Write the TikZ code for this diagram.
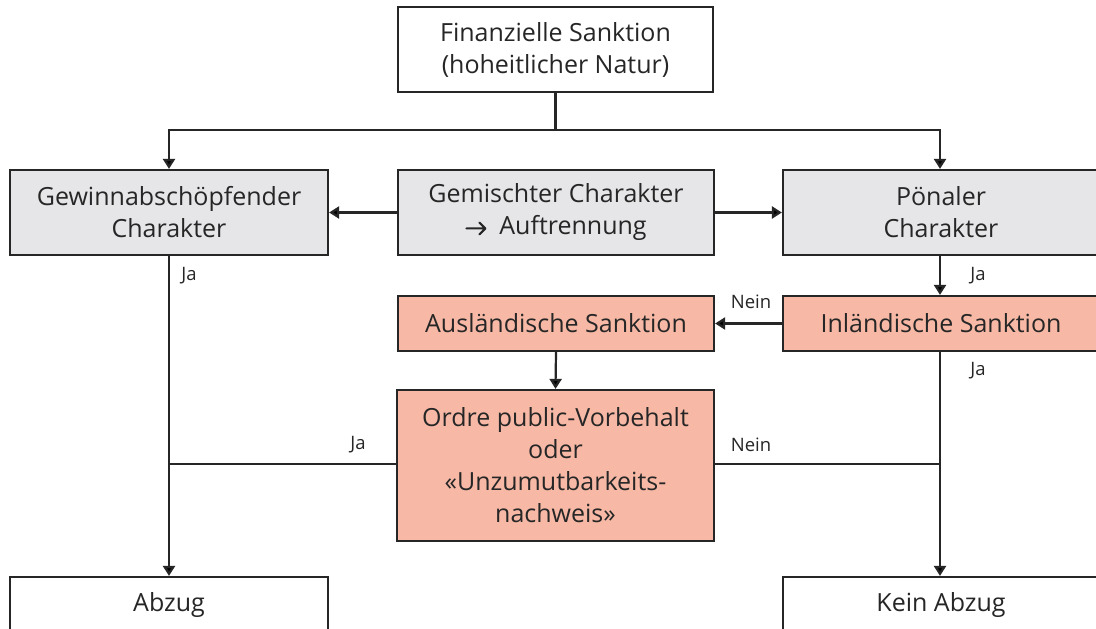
\documentclass[tikz,border=0pt]{standalone}
\usepackage{fontspec}
\setmainfont{Open Sans}
\usetikzlibrary{arrows.meta}
\definecolor{txt}{HTML}{262626}
\definecolor{graybox}{HTML}{E6E6E9}
\definecolor{salmon}{HTML}{F7B9A6}
\tikzset{
  box/.style={draw=txt, line width=2.2pt, align=center, text=txt, inner sep=2pt,
    font=\fontsize{25}{32}\selectfont},
  whitebox/.style={box, fill=white},
  graybx/.style={box, fill=graybox},
  redbx/.style={box, fill=salmon},
  conn/.style={draw=txt, line width=2.2pt},
  arr/.style={conn, -{Triangle[length=10pt,width=12pt]}},
  lbl/.style={text=txt, font=\fontsize{18.5}{20}\selectfont, inner sep=0pt}
}
\newcommand{\inarrow}{\tikz[baseline={(0pt,-6.5pt)}]{\draw[txt, line width=2pt, line cap=round, line join=round] (0pt,0pt) -- (19pt,0pt) (13pt,-6pt) -- (19pt,0pt) -- (13pt,6pt);}}
\begin{document}
\begin{tikzpicture}[x=1pt,y=-1pt]
\useasboundingbox (0,0) rectangle (1096,629);
\clip (0,0) rectangle (1096,629);
\fill[white] (0,0) rectangle (1096,629);

\node[whitebox, minimum width=315, minimum height=85] (top) at (555.5,49.5) {Finanzielle Sanktion\\(hoheitlicher Natur)};
\node[graybx, minimum width=318, minimum height=85] (gew) at (169,212.5) {Gewinnabschöpfender\\Charakter};
\node[graybx, minimum width=316, minimum height=85] (gem) at (556,212.5) {Gemischter Charakter\\\inarrow\ \ Auftrennung};
\node[graybx, minimum width=316, minimum height=85] (pon) at (941,212.5) {Pönaler\\Charakter};
\node[redbx, minimum width=316, minimum height=55] (aus) at (556,323.5) {Ausländische Sanktion};
\node[redbx, minimum width=316, minimum height=55] (inl) at (941,323.5) {Inländische Sanktion};
\node[redbx, minimum width=317, minimum height=151] (ord) at (555.5,465.5) {Ordre public-Vorbehalt\\oder\\«Unzumutbarkeits-\\nachweis»};
\node[whitebox, minimum width=318, minimum height=56] (abz) at (169,605) {Abzug};
\node[whitebox, minimum width=316, minimum height=56] (kein) at (941,605) {Kein Abzug};

\coordinate (split) at (555.5,130);
\coordinate (jl) at (169,464);
\coordinate (jr) at (940,464);

\draw[conn] (top.south) -- (split);
\draw[arr] (split) -| (gew.north);
\draw[arr] (split) -| (pon.north -| 940,0);
\draw[arr] (gem.west) -- (gew.east);
\draw[arr] (gem.east) -- (pon.west);
\draw[arr] (gew.south) -- (abz.north);
\draw[arr] (pon.south -| 940,0) -- (inl.north -| 940,0);
\draw[arr] (inl.west) -- (aus.east);
\draw[arr] (aus.south) -- (ord.north);
\draw[arr] (inl.south -| 940,0) -- (kein.north -| 940,0);
\draw[conn] (jl -| ord.west) -- (jl);
\draw[conn] (jr -| ord.east) -- (jr);

\node[lbl] (l1) at (189,276) {Ja};
\node[lbl] (l2) at (978,276) {Ja};
\node[lbl] (l3) at (751,302) {Nein};
\node[lbl] (l4) at (978,371) {Ja};
\node[lbl] (l5) at (358,445) {Ja};
\node[lbl] (l6) at (751,445) {Nein};
\end{tikzpicture}
\end{document}
